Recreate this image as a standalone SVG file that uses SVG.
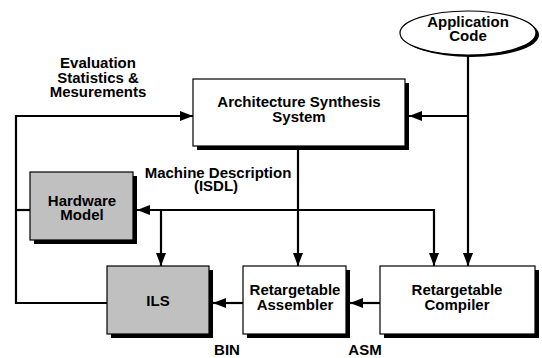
<svg xmlns="http://www.w3.org/2000/svg" width="542" height="358" viewBox="0 0 542 358">
<style>
text{font-family:"Liberation Sans",Arial,sans-serif;font-weight:bold;font-size:15px;fill:#000;text-anchor:middle}
.box{fill:#fff;stroke:#000;stroke-width:1.2}
.gray{fill:#c0c0c0;stroke:#000;stroke-width:1.2}
.sh{fill:#000}
.ln{fill:none;stroke:#000;stroke-width:2.2}
</style>
<defs>
<marker id="ah" markerUnits="userSpaceOnUse" markerWidth="14" markerHeight="11" refX="13" refY="5" orient="auto">
<path d="M0,0 L13,5 L0,10 z" fill="#000"/>
</marker>
</defs>
<rect width="542" height="358" fill="#fff"/>
<g id="connectors">
<path class="ln" d="M468,55 V266" marker-end="url(#ah)"/>
<path class="ln" d="M468,116 H409" marker-end="url(#ah)"/>
<path class="ln" d="M107,303 H16 V116 H193" marker-end="url(#ah)"/>
<path class="ln" d="M16,210 H30"/>
<path class="ln" d="M298,150 V266" marker-end="url(#ah)"/>
<path class="ln" d="M298,210 H137" marker-end="url(#ah)"/>
<path class="ln" d="M298,210 H434 V266" marker-end="url(#ah)"/>
<path class="ln" d="M161,210 V266" marker-end="url(#ah)"/>
<path class="ln" d="M243,303 H213" marker-end="url(#ah)"/>
<path class="ln" d="M380,303 H350" marker-end="url(#ah)"/>
</g>
<g id="app-code">
<ellipse class="sh" cx="471" cy="35" rx="68" ry="22"/>
<ellipse class="box" cx="468" cy="33" rx="68" ry="22" stroke-width="1.5"/>
<text x="468" y="27">Application</text>
<text x="468" y="41">Code</text>
</g>
<g id="arch">
<rect class="sh" x="197" y="83" width="212" height="67"/>
<rect class="box" x="193" y="79" width="212" height="67"/>
<text x="299" y="107">Architecture Synthesis</text>
<text x="299" y="122">System</text>
</g>
<g id="hardware">
<rect class="sh" x="34" y="176" width="103" height="68"/>
<rect class="gray" x="30" y="172" width="103" height="68"/>
<text x="82" y="206">Hardware</text>
<text x="82" y="220">Model</text>
</g>
<g id="ils">
<rect class="sh" x="111" y="270" width="102" height="68"/>
<rect class="gray" x="107" y="266" width="102" height="68"/>
<text x="158" y="306">ILS</text>
</g>
<g id="assembler">
<rect class="sh" x="247" y="270" width="103" height="68"/>
<rect class="box" x="243" y="266" width="103" height="68"/>
<text x="295" y="295">Retargetable</text>
<text x="295" y="310">Assembler</text>
</g>
<g id="compiler">
<rect class="sh" x="384" y="270" width="155" height="68"/>
<rect class="box" x="380" y="266" width="155" height="68"/>
<text x="457" y="295">Retargetable</text>
<text x="457" y="310">Compiler</text>
</g>
<g id="labels">
<text x="98" y="68">Evaluation</text>
<text x="98" y="83">Statistics &amp;</text>
<text x="98" y="97">Mesurements</text>
<text x="218" y="178">Machine Description</text>
<text x="216" y="191">(ISDL)</text>
<text x="227" y="355">BIN</text>
<text x="365" y="355">ASM</text>
</g>
</svg>
